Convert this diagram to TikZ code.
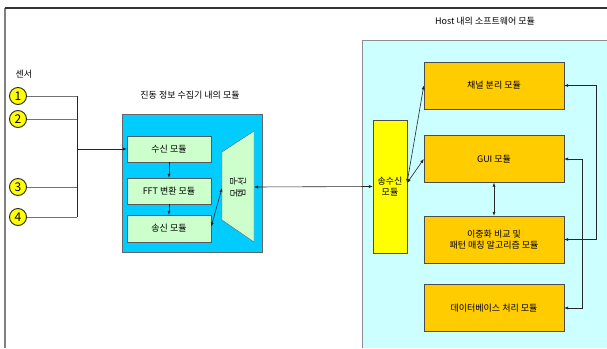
\documentclass[tikz,border=0pt]{standalone}
\usepackage{fontspec}
\usepackage{graphicx}
\setmainfont{Noto Sans CJK KR}
\usetikzlibrary{arrows.meta}

\definecolor{collblue}{HTML}{00CCFF}
\definecolor{modgreen}{HTML}{CCFFCC}
\definecolor{hostcyan}{HTML}{CCFFFF}
\definecolor{modorange}{HTML}{FFCC00}
\definecolor{senseyellow}{HTML}{FFFF00}

\newcommand{\sidechar}[1]{\rotatebox{90}{#1}}

\tikzset{
  modbox/.style={draw=black!65, fill=modgreen, minimum width=84pt, minimum height=26pt, inner sep=0pt},
  hostbox/.style={draw=black!70, fill=modorange, minimum width=140pt, minimum height=47pt, inner sep=0pt, align=center},
  sensor/.style={circle, draw=black!85, line width=0.9pt, fill=senseyellow, minimum size=17pt, inner sep=0pt, font=\fontsize{12}{12}\selectfont},
  wire/.style={black!55, line width=0.8pt},
  link/.style={black!85, line width=0.6pt},
  onehead/.style={link, -{Latex[length=4pt,width=3.2pt]}},
  twohead/.style={link, {Latex[length=4pt,width=3.2pt]}-{Latex[length=4pt,width=3.2pt]}},
}

\begin{document}
\begin{tikzpicture}[x=1pt, y=-1pt, font=\fontsize{9}{11}\selectfont]
  \useasboundingbox (0,0) rectangle (607,348);
  \fill[white] (0,0) rectangle (607,348);

  % frame
  \draw[black!50, line width=1.6pt] (5,348) -- (5,8);
  \draw[black!80, line width=1.2pt] (5,8) -- (607,8);

  % sensors
  \node at (24,74) {센서};
  \node[sensor] (s1) at (18,96) {1};
  \node[sensor] (s2) at (18,119) {2};
  \node[sensor] (s3) at (18,187) {3};
  \node[sensor] (s4) at (18,217) {4};
  \coordinate (b1) at (77,96);
  \coordinate (b2) at (77,119);
  \coordinate (b3) at (77,187);
  \coordinate (b4) at (77,217);
  \coordinate (bus) at (77,149);
  \draw[wire] (s1) -- (b1);
  \draw[wire] (s2) -- (b2);
  \draw[wire] (s3) -- (b3);
  \draw[wire] (s4) -- (b4);
  \draw[link] (b1) -- (b4);

  % vibration collector
  \node at (190,95) {진동 정보 수집기 내의 모듈};
  \fill[collblue] (122,114) rectangle (262,252);
  \draw[black!60] (122,114) rectangle (262,252);
  \node[modbox] (recv) at (169,149) {수신 모듈};
  \node[modbox] (fft) at (169,191) {FFT 변환 모듈};
  \node[modbox, minimum height=27pt] (send) at (169,228.5) {송신 모듈};
  \filldraw[fill=modgreen, draw=black!60] (222,152) -- (254,131) -- (254,242) -- (222,220) -- cycle;
  \node[align=center, inner sep=0pt] (modem) at (238,187)
    {\sidechar{무}\sidechar{선}\\[1pt]\sidechar{모}\sidechar{뎀}};
  \coordinate (modemin) at (222,188);
  \coordinate (modemout) at (254,187);
  \draw[onehead] (bus) -- (recv.west);
  \draw[onehead] (recv) -- (fft);
  \draw[onehead] (fft) -- (send);
  \draw[twohead] ([yshift=2pt]send.east) -- (modemin);

  % host software
  \node at (485,21) {Host 내의 소프트웨어 모듈};
  \fill[hostcyan] (362,40) rectangle (607,348);
  \draw[black!45, line width=0.8pt] (607,40) -- (362,40) -- (362,348);
  \node[draw=black!70, fill=senseyellow, minimum width=34pt, minimum height=133pt, inner sep=0pt, align=center] (trx) at (390,186.5) {송수신\\모듈};
  \coordinate (trxport) at (407,183);
  \node[hostbox] (chan) at (494,85.5) {채널 분리 모듈};
  \node[hostbox] (gui) at (494,159) {GUI 모듈};
  \node[hostbox] (cmp) at (494,239.5) {이중화 비교 및\\패턴 매칭 알고리즘 모듈};
  \node[hostbox] (db) at (494,308) {데이터베이스 처리 모듈};

  \draw[twohead] (modemout) -- (trx.west);
  \draw[twohead] (trxport) -- (chan.west);
  \draw[twohead] (trxport) -- (gui.west);
  \draw[twohead] (gui) -- (cmp);
  \draw[twohead] (chan.east) -- ++(32,0) |- (cmp.east);
  \draw[twohead] (gui.east) -- ++(18,0) |- (db.east);
\end{tikzpicture}
\end{document}
